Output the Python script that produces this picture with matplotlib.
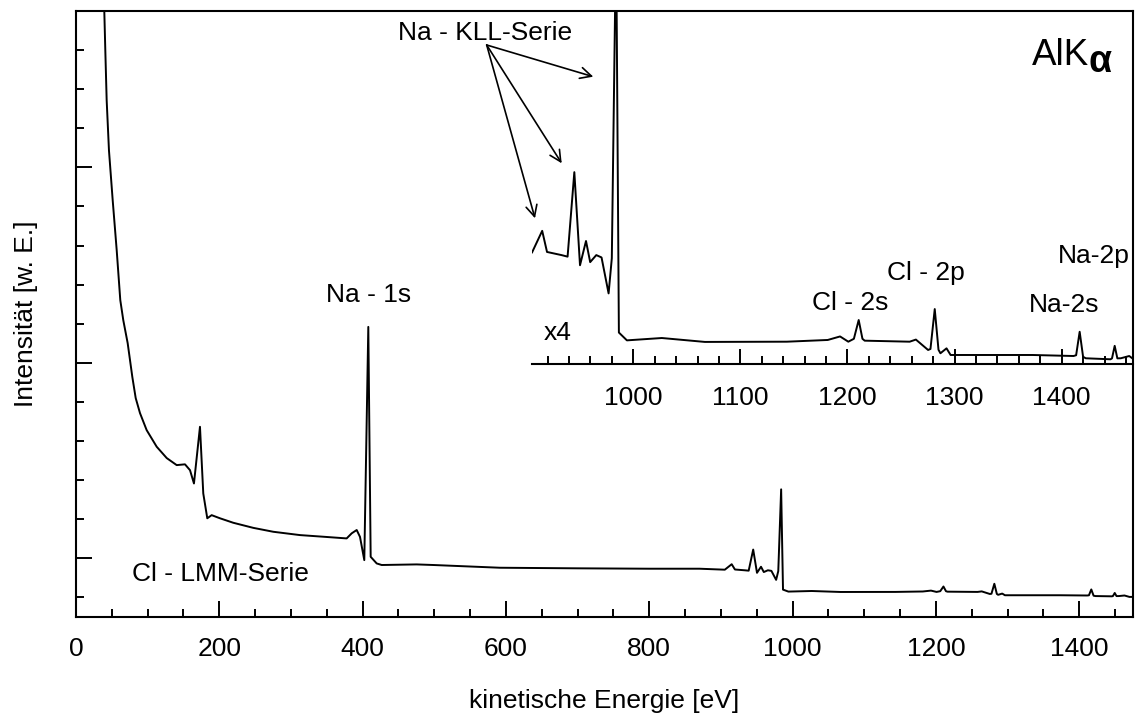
import matplotlib
matplotlib.use('Agg')
import matplotlib.pyplot as plt
from matplotlib.ticker import MultipleLocator, NullFormatter

plt.rcParams['font.family'] = ['Liberation Sans', 'DejaVu Sans']

# ---- data ----
energy = [35, 39.5, 40.9, 42.8, 46.0, 51.2, 56.8, 61.8, 66.0, 72.1, 78.6, 83.3,
          89.3, 98.6, 112.6, 126.6, 140.5, 152.1, 159.1, 164.6, 173.0, 177.6,
          183.2, 189.3, 200.9, 219.5, 247.4, 275.3, 312.6, 347.4, 377.7, 384.7,
          391.7, 396.3, 402.3, 407.9, 411.2, 419.6, 426.6, 475.4, 498.6, 591.6,
          700, 800, 870, 905.4, 915.0, 919.5, 933.0, 938.7, 945.0, 950.3, 955.9,
          959.8, 965.5, 970.4, 977.0, 980.0, 984.0, 986.6, 994.1, 1026.7, 1066.9,
          1143.4, 1181.6, 1193.1, 1200.8, 1206.0, 1210.5, 1214.0, 1216.1, 1258.1,
          1263.9, 1275.3, 1277.5, 1281.5, 1285.0, 1286.8, 1292.5, 1296.3, 1372.9,
          1411.1, 1413.5, 1416.8, 1420.0, 1422.5, 1445.6, 1447.0, 1449.5, 1452.0,
          1455.2, 1463.1, 1470.1, 1476.0]
intensity = [44000, 37980, 35990, 33430, 30870, 28320, 25760, 23210, 22180, 21010,
             19280, 18200, 17430, 16560, 15710, 15130, 14770, 14810, 14510, 13830,
             16730, 13320, 12050, 12210, 12050, 11820, 11560, 11360, 11190, 11100,
             11020, 11280, 11450, 11100, 9910, 21840, 10080, 9740, 9660, 9690, 9660,
             9520, 9490, 9470, 9470, 9420, 9700, 9430, 9390, 9370, 10450, 9260,
             9570, 9300, 9390, 9360, 8900, 9350, 13530, 8400, 8300, 8330, 8280,
             8283, 8305, 8350, 8283, 8320, 8560, 8320, 8296, 8283, 8310, 8177,
             8190, 8700, 8180, 8135, 8198, 8113, 8113, 8100, 8110, 8410, 8090,
             8071, 8058, 8070, 8230, 8070, 8071, 8100, 8027, 8030]

x_label = 'kinetische Energie [eV]'
y_label = 'Intensität [w. E.]'
peak_labels = ['Na - 1s', 'Cl - LMM-Serie', 'Na - KLL-Serie', 'x4',
               'Cl - 2s', 'Cl - 2p', 'Na-2s', 'Na-2p']

# ---- layout helpers (pixel -> figure fraction) ----
W, H = 1140, 713
def fx(px):
    return px / W
def fy(py):
    return 1 - py / H

FS = 19
fig = plt.figure(figsize=(W / 100, H / 100), dpi=100)

# main axes
ax = fig.add_axes([fx(76), fy(617), fx(1133) - fx(76), fy(11) - fy(617)])
ax.plot(energy, intensity, color='black', lw=1.4)
ax.set_xlim(0, 1475)
ax.set_ylim(7000, 38000)
ax.xaxis.set_major_locator(MultipleLocator(200))
ax.xaxis.set_minor_locator(MultipleLocator(50))
ax.yaxis.set_major_locator(MultipleLocator(10000))
ax.yaxis.set_minor_locator(MultipleLocator(2000))
ax.yaxis.set_major_formatter(NullFormatter())
ax.tick_params(which='both', direction='in', top=False, right=False,
               width=1.4, labelsize=FS, pad=14.4)
ax.tick_params(which='major', length=11.5)
ax.tick_params(which='minor', length=5.8)
for s in ax.spines.values():
    s.set_linewidth(1.5)
ax.set_xlabel(x_label, fontsize=FS)
ax.set_ylabel(y_label, fontsize=FS)
ax.xaxis.set_label_coords(0.5, -0.118)
ax.yaxis.set_label_coords(-0.036, 0.5)

# inset (x4)
axin = fig.add_axes([fx(531.7), fy(364.3), fx(1133) - fx(531.7), fy(11) - fy(364.3)])
axin.patch.set_visible(False)
axin.plot(energy, intensity, color='black', lw=1.4)
axin.set_xlim(905.2, 1466.6)
axin.set_ylim(7994, 12510)
for side in ['left', 'top', 'right']:
    axin.spines[side].set_visible(False)
axin.spines['bottom'].set_linewidth(1.5)
axin.set_yticks([])
axin.xaxis.set_major_locator(MultipleLocator(100))
axin.xaxis.set_minor_locator(MultipleLocator(20))
axin.tick_params(which='both', direction='in', width=1.4, labelsize=FS, pad=15.5)
axin.tick_params(which='major', length=11)
axin.tick_params(which='minor', length=5.5)

# text annotations (left x, baseline y in pixels)
label_pos = [(326, 302), (132, 580.7), (398.3, 40), (543.3, 340),
             (811.5, 310), (886.7, 280), (1029, 311.7), (1058.3, 263.3)]
for txt, (px, py) in zip(peak_labels, label_pos):
    fig.text(fx(px), fy(py), txt, fontsize=FS, ha='left', va='baseline')

fig.text(fx(1032), fy(65), 'AlK', fontsize=26.5, ha='left', va='baseline')
fig.text(fx(1088), fy(71.5), 'α', fontsize=27, fontweight='bold',
         ha='left', va='baseline')

# arrows of the Na KLL series
arrow_start = (486.7, 45)
arrow_ends = [(593.3, 76.7), (561.7, 163.3), (535, 218.3)]
for ex, ey in arrow_ends:
    fig.add_artist(matplotlib.patches.FancyArrowPatch(
        (fx(arrow_start[0]), fy(arrow_start[1])), (fx(ex), fy(ey)),
        transform=fig.transFigure, arrowstyle='->,head_length=0.5,head_width=0.25',
        mutation_scale=16, lw=1.2, color='black', shrinkA=0, shrinkB=0))

fig.savefig('out.png', dpi=100)
